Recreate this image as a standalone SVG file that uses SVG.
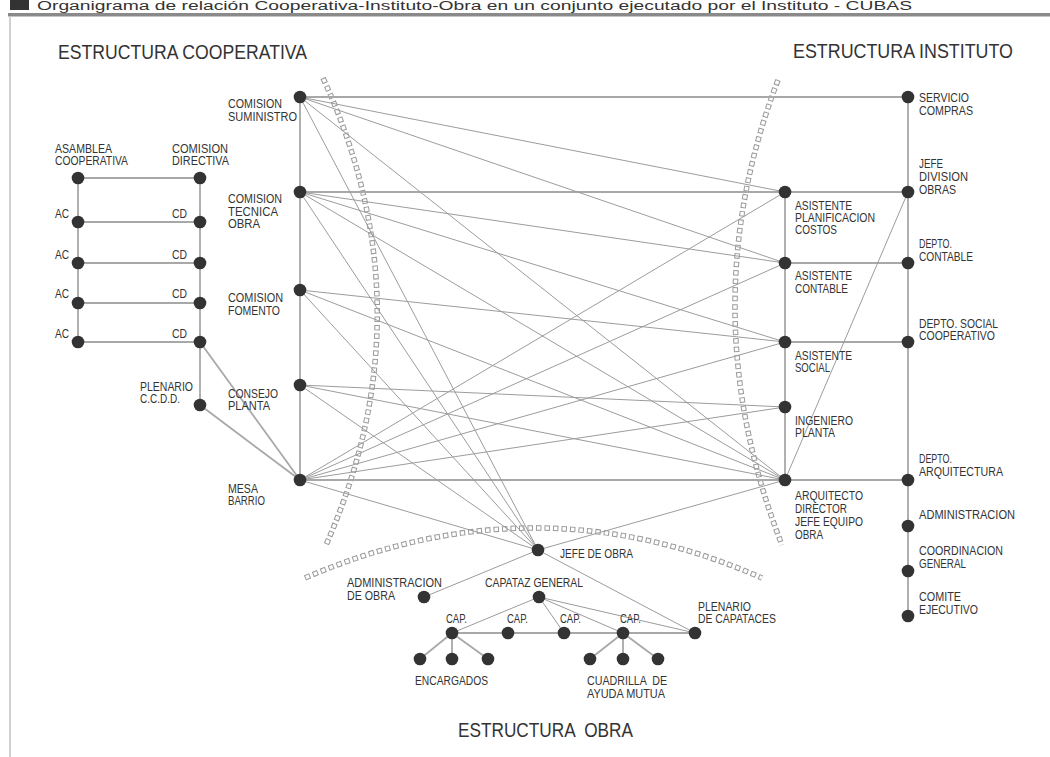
<svg xmlns="http://www.w3.org/2000/svg" width="1050" height="757" viewBox="0 0 1050 757">
<style>
text{font-family:"Liberation Sans",Arial,sans-serif;fill:#333;font-size:12.5px}
.t{font-size:21px}
.s{stroke:#a8a8a8;stroke-width:1.8;fill:none}
.c{stroke:#9c9c9c;stroke-width:1;fill:none}
.n{fill:#333}
.arcO{fill:none;stroke:#9a9a9a;stroke-width:5.5;stroke-dasharray:5.5 3}
.arcI{fill:none;stroke:#fff;stroke-width:3.5;stroke-dasharray:3.5 5;stroke-dashoffset:-1}
</style>
<rect width="1050" height="757" fill="#fff"/>
<g id="header">
<rect x="10" y="0" width="19" height="10" fill="#333"/>
<text x="37" y="10" font-size="9" textLength="875" lengthAdjust="spacingAndGlyphs">Organigrama de relación Cooperativa-Instituto-Obra en un conjunto ejecutado por el Instituto - CUBAS</text>
<rect x="8" y="13" width="1042" height="3.5" fill="#8a8a8a"/>
<rect x="9" y="16" width="2" height="741" fill="#d0d0d0"/>
</g>
<g id="arcs">
<path class="arcO" d="M323,78 Q430,310 326,545"/>
<path class="arcI" d="M323,78 Q430,310 326,545"/>
<path class="arcO" d="M778,80 Q690,310 782,545"/>
<path class="arcI" d="M778,80 Q690,310 782,545"/>
<path class="arcO" d="M305,578 Q535,478 762,578"/>
<path class="arcI" d="M305,578 Q535,478 762,578"/>
</g>
<g id="connectors">
<line class="s" x1="78" y1="178" x2="78" y2="342"/>
<line class="s" x1="200" y1="178" x2="200" y2="405"/>
<line class="s" x1="78" y1="178" x2="200" y2="178"/>
<line class="s" x1="78" y1="222" x2="200" y2="222"/>
<line class="s" x1="78" y1="263" x2="200" y2="263"/>
<line class="s" x1="78" y1="303" x2="200" y2="303"/>
<line class="s" x1="78" y1="342" x2="200" y2="342"/>
<line class="s" x1="200" y1="342" x2="300" y2="480"/>
<line class="s" x1="200" y1="405" x2="300" y2="480"/>
<line class="s" x1="300" y1="97" x2="300" y2="480"/>
<line class="s" x1="785" y1="192" x2="785" y2="480"/>
<line class="s" x1="908" y1="97" x2="908" y2="616"/>
<line class="s" x1="300" y1="97" x2="908" y2="97" stroke="#c4c4c4"/>
<line class="s" x1="300" y1="192" x2="908" y2="192" stroke="#c4c4c4"/>
<line class="s" x1="785" y1="263" x2="908" y2="263"/>
<line class="s" x1="785" y1="342" x2="908" y2="342"/>
<line class="s" x1="300" y1="480" x2="908" y2="480" stroke="#c4c4c4"/>
<line class="c" x1="300" y1="97" x2="785" y2="192"/>
<line class="c" x1="300" y1="97" x2="785" y2="263"/>
<line class="c" x1="300" y1="97" x2="785" y2="480"/>
<line class="c" x1="300" y1="97" x2="538" y2="550"/>
<line class="c" x1="300" y1="192" x2="785" y2="263"/>
<line class="c" x1="300" y1="192" x2="785" y2="342"/>
<line class="c" x1="300" y1="192" x2="785" y2="480"/>
<line class="c" x1="300" y1="192" x2="538" y2="550"/>
<line class="c" x1="300" y1="290" x2="785" y2="342"/>
<line class="c" x1="300" y1="290" x2="785" y2="480"/>
<line class="c" x1="300" y1="290" x2="538" y2="550"/>
<line class="c" x1="300" y1="385" x2="785" y2="407"/>
<line class="c" x1="300" y1="385" x2="785" y2="480"/>
<line class="c" x1="300" y1="385" x2="538" y2="550"/>
<line class="c" x1="300" y1="480" x2="785" y2="192"/>
<line class="c" x1="300" y1="480" x2="785" y2="263"/>
<line class="c" x1="300" y1="480" x2="785" y2="342"/>
<line class="c" x1="300" y1="480" x2="785" y2="407"/>
<line class="c" x1="300" y1="480" x2="538" y2="550"/>
<line class="c" x1="908" y1="192" x2="785" y2="480"/>
<line class="c" x1="785" y1="480" x2="538" y2="550"/>
<line class="c" x1="538" y1="550" x2="695" y2="633"/>
<line class="c" x1="538" y1="550" x2="424" y2="597"/>
<line class="c" x1="539" y1="597" x2="452" y2="633"/>
<line class="c" x1="539" y1="597" x2="564" y2="633"/>
<line class="c" x1="539" y1="597" x2="623" y2="633"/>
<line class="c" x1="539" y1="597" x2="695" y2="633"/>
<line class="s" x1="452" y1="633" x2="695" y2="633"/>
<line class="s" x1="452" y1="633" x2="420" y2="659"/>
<line class="s" x1="452" y1="633" x2="452" y2="659"/>
<line class="s" x1="452" y1="633" x2="488" y2="659"/>
<line class="s" x1="623" y1="633" x2="590" y2="659"/>
<line class="s" x1="623" y1="633" x2="623" y2="659"/>
<line class="s" x1="623" y1="633" x2="658" y2="659"/>
</g>
<g id="titles">
<text class="t" x="58" y="59" textLength="249" lengthAdjust="spacingAndGlyphs">ESTRUCTURA COOPERATIVA</text>
<text class="t" x="793" y="58" textLength="220" lengthAdjust="spacingAndGlyphs">ESTRUCTURA INSTITUTO</text>
<text class="t" x="458" y="737" textLength="175" lengthAdjust="spacingAndGlyphs" xml:space="preserve">ESTRUCTURA  OBRA</text>
</g>
<g id="asamblea"><circle class="n" cx="78" cy="178" r="6.3"/><text x="55" y="153" textLength="57" lengthAdjust="spacingAndGlyphs">ASAMBLEA</text><text x="55" y="165" textLength="73" lengthAdjust="spacingAndGlyphs">COOPERATIVA</text></g>
<g id="comision-directiva"><circle class="n" cx="200" cy="178" r="6.3"/><text x="172" y="153" textLength="56" lengthAdjust="spacingAndGlyphs">COMISION</text><text x="172" y="165" textLength="57" lengthAdjust="spacingAndGlyphs">DIRECTIVA</text></g>
<g id="ac1"><circle class="n" cx="78" cy="222" r="6.3"/><text x="55" y="218" textLength="14" lengthAdjust="spacingAndGlyphs">AC</text></g>
<g id="cd1"><circle class="n" cx="200" cy="222" r="6.3"/><text x="172" y="218" textLength="15" lengthAdjust="spacingAndGlyphs">CD</text></g>
<g id="ac2"><circle class="n" cx="78" cy="263" r="6.3"/><text x="55" y="259" textLength="14" lengthAdjust="spacingAndGlyphs">AC</text></g>
<g id="cd2"><circle class="n" cx="200" cy="263" r="6.3"/><text x="172" y="259" textLength="15" lengthAdjust="spacingAndGlyphs">CD</text></g>
<g id="ac3"><circle class="n" cx="78" cy="303" r="6.3"/><text x="55" y="298" textLength="14" lengthAdjust="spacingAndGlyphs">AC</text></g>
<g id="cd3"><circle class="n" cx="200" cy="303" r="6.3"/><text x="172" y="298" textLength="15" lengthAdjust="spacingAndGlyphs">CD</text></g>
<g id="ac4"><circle class="n" cx="78" cy="342" r="6.3"/><text x="55" y="338" textLength="14" lengthAdjust="spacingAndGlyphs">AC</text></g>
<g id="cd4"><circle class="n" cx="200" cy="342" r="6.3"/><text x="172" y="338" textLength="15" lengthAdjust="spacingAndGlyphs">CD</text></g>
<g id="plenario-ccdd"><circle class="n" cx="200" cy="405" r="6.3"/><text x="140" y="391" textLength="53" lengthAdjust="spacingAndGlyphs">PLENARIO</text><text x="140" y="403" textLength="40" lengthAdjust="spacingAndGlyphs">C.C.D.D.</text></g>
<g id="comision-suministro"><circle class="n" cx="300" cy="97" r="6.3"/><text x="228" y="108" textLength="54" lengthAdjust="spacingAndGlyphs">COMISION</text><text x="228" y="121" textLength="69" lengthAdjust="spacingAndGlyphs">SUMINISTRO</text></g>
<g id="comision-tecnica"><circle class="n" cx="300" cy="192" r="6.3"/><text x="228" y="203" textLength="54" lengthAdjust="spacingAndGlyphs">COMISION</text><text x="228" y="215.5" textLength="50" lengthAdjust="spacingAndGlyphs">TECNICA</text><text x="228" y="228" textLength="32" lengthAdjust="spacingAndGlyphs">OBRA</text></g>
<g id="comision-fomento"><circle class="n" cx="300" cy="290" r="6.3"/><text x="228" y="302" textLength="55" lengthAdjust="spacingAndGlyphs">COMISION</text><text x="228" y="315" textLength="52" lengthAdjust="spacingAndGlyphs">FOMENTO</text></g>
<g id="consejo-planta"><circle class="n" cx="300" cy="385" r="6.3"/><text x="228" y="398" textLength="50" lengthAdjust="spacingAndGlyphs">CONSEJO</text><text x="228" y="410" textLength="42" lengthAdjust="spacingAndGlyphs">PLANTA</text></g>
<g id="mesa-barrio"><circle class="n" cx="300" cy="480" r="6.3"/><text x="228" y="493" textLength="30" lengthAdjust="spacingAndGlyphs">MESA</text><text x="228" y="505" textLength="37" lengthAdjust="spacingAndGlyphs">BARRIO</text></g>
<g id="asistente-planificacion"><circle class="n" cx="785" cy="192" r="6.3"/><text x="795" y="210" textLength="57" lengthAdjust="spacingAndGlyphs">ASISTENTE</text><text x="795" y="222" textLength="80" lengthAdjust="spacingAndGlyphs">PLANIFICACION</text><text x="795" y="234" textLength="42" lengthAdjust="spacingAndGlyphs">COSTOS</text></g>
<g id="asistente-contable"><circle class="n" cx="785" cy="263" r="6.3"/><text x="795" y="280" textLength="57" lengthAdjust="spacingAndGlyphs">ASISTENTE</text><text x="795" y="293" textLength="53" lengthAdjust="spacingAndGlyphs">CONTABLE</text></g>
<g id="asistente-social"><circle class="n" cx="785" cy="342" r="6.3"/><text x="795" y="360" textLength="57" lengthAdjust="spacingAndGlyphs">ASISTENTE</text><text x="795" y="372" textLength="35" lengthAdjust="spacingAndGlyphs">SOCIAL</text></g>
<g id="ingeniero-planta"><circle class="n" cx="785" cy="407" r="6.3"/><text x="795" y="425" textLength="58" lengthAdjust="spacingAndGlyphs">INGENIERO</text><text x="795" y="437" textLength="40" lengthAdjust="spacingAndGlyphs">PLANTA</text></g>
<g id="arquitecto-director"><circle class="n" cx="785" cy="480" r="6.3"/><text x="795" y="500" textLength="68" lengthAdjust="spacingAndGlyphs">ARQUITECTO</text><text x="795" y="513" textLength="52" lengthAdjust="spacingAndGlyphs">DIRECTOR</text><text x="795" y="526" textLength="68" lengthAdjust="spacingAndGlyphs">JEFE EQUIPO</text><text x="795" y="539" textLength="28" lengthAdjust="spacingAndGlyphs">OBRA</text></g>
<g id="servicio-compras"><circle class="n" cx="908" cy="97" r="6.3"/><text x="919" y="102" textLength="50" lengthAdjust="spacingAndGlyphs">SERVICIO</text><text x="919" y="115" textLength="54" lengthAdjust="spacingAndGlyphs">COMPRAS</text></g>
<g id="jefe-division-obras"><circle class="n" cx="908" cy="192" r="6.3"/><text x="919" y="168" textLength="24" lengthAdjust="spacingAndGlyphs">JEFE</text><text x="919" y="181" textLength="49" lengthAdjust="spacingAndGlyphs">DIVISION</text><text x="919" y="194" textLength="37" lengthAdjust="spacingAndGlyphs">OBRAS</text></g>
<g id="depto-contable"><circle class="n" cx="908" cy="263" r="6.3"/><text x="919" y="248" textLength="33" lengthAdjust="spacingAndGlyphs">DEPTO.</text><text x="919" y="261" textLength="54" lengthAdjust="spacingAndGlyphs">CONTABLE</text></g>
<g id="depto-social"><circle class="n" cx="908" cy="342" r="6.3"/><text x="919" y="328" textLength="79" lengthAdjust="spacingAndGlyphs">DEPTO. SOCIAL</text><text x="919" y="340" textLength="76" lengthAdjust="spacingAndGlyphs">COOPERATIVO</text></g>
<g id="depto-arquitectura"><circle class="n" cx="908" cy="480" r="6.3"/><text x="919" y="463" textLength="33" lengthAdjust="spacingAndGlyphs">DEPTO.</text><text x="919" y="476" textLength="84" lengthAdjust="spacingAndGlyphs">ARQUITECTURA</text></g>
<g id="administracion"><circle class="n" cx="908" cy="526" r="6.3"/><text x="919" y="519" textLength="96" lengthAdjust="spacingAndGlyphs">ADMINISTRACION</text></g>
<g id="coordinacion-general"><circle class="n" cx="908" cy="571" r="6.3"/><text x="919" y="555" textLength="84" lengthAdjust="spacingAndGlyphs">COORDINACION</text><text x="919" y="568" textLength="47" lengthAdjust="spacingAndGlyphs">GENERAL</text></g>
<g id="comite-ejecutivo"><circle class="n" cx="908" cy="616" r="6.3"/><text x="919" y="601" textLength="42" lengthAdjust="spacingAndGlyphs">COMITE</text><text x="919" y="614" textLength="59" lengthAdjust="spacingAndGlyphs">EJECUTIVO</text></g>
<g id="jefe-de-obra"><circle class="n" cx="538" cy="550" r="6.3"/><text x="560" y="558" textLength="73" lengthAdjust="spacingAndGlyphs">JEFE DE OBRA</text></g>
<g id="administracion-obra"><circle class="n" cx="424" cy="597" r="6.3"/><text x="347" y="587" textLength="95" lengthAdjust="spacingAndGlyphs">ADMINISTRACION</text><text x="347" y="600" textLength="48" lengthAdjust="spacingAndGlyphs">DE OBRA</text></g>
<g id="capataz-general"><circle class="n" cx="539" cy="597" r="6.3"/><text x="485" y="587" textLength="98" lengthAdjust="spacingAndGlyphs">CAPATAZ GENERAL</text></g>
<g id="cap1"><circle class="n" cx="452" cy="633" r="6.3"/><text x="446" y="623" textLength="21" lengthAdjust="spacingAndGlyphs">CAP.</text></g>
<g id="cap2"><circle class="n" cx="508" cy="633" r="6.3"/><text x="507" y="623" textLength="21" lengthAdjust="spacingAndGlyphs">CAP.</text></g>
<g id="cap3"><circle class="n" cx="564" cy="633" r="6.3"/><text x="560" y="623" textLength="21" lengthAdjust="spacingAndGlyphs">CAP.</text></g>
<g id="cap4"><circle class="n" cx="623" cy="633" r="6.3"/><text x="620" y="623" textLength="21" lengthAdjust="spacingAndGlyphs">CAP.</text></g>
<g id="plenario-capataces"><circle class="n" cx="695" cy="633" r="6.3"/><text x="698" y="611" textLength="53" lengthAdjust="spacingAndGlyphs">PLENARIO</text><text x="698" y="623" textLength="78" lengthAdjust="spacingAndGlyphs">DE CAPATACES</text></g>
<g id="encargados"><circle class="n" cx="420" cy="659" r="6.3"/><circle class="n" cx="452" cy="659" r="6.3"/><circle class="n" cx="488" cy="659" r="6.3"/><text x="415" y="685" textLength="73" lengthAdjust="spacingAndGlyphs">ENCARGADOS</text></g>
<g id="cuadrilla"><circle class="n" cx="590" cy="659" r="6.3"/><circle class="n" cx="623" cy="659" r="6.3"/><circle class="n" cx="658" cy="659" r="6.3"/><text x="587" y="685" textLength="80" lengthAdjust="spacingAndGlyphs" xml:space="preserve">CUADRILLA  DE</text><text x="587" y="698" textLength="78" lengthAdjust="spacingAndGlyphs">AYUDA MUTUA</text></g>
</svg>
